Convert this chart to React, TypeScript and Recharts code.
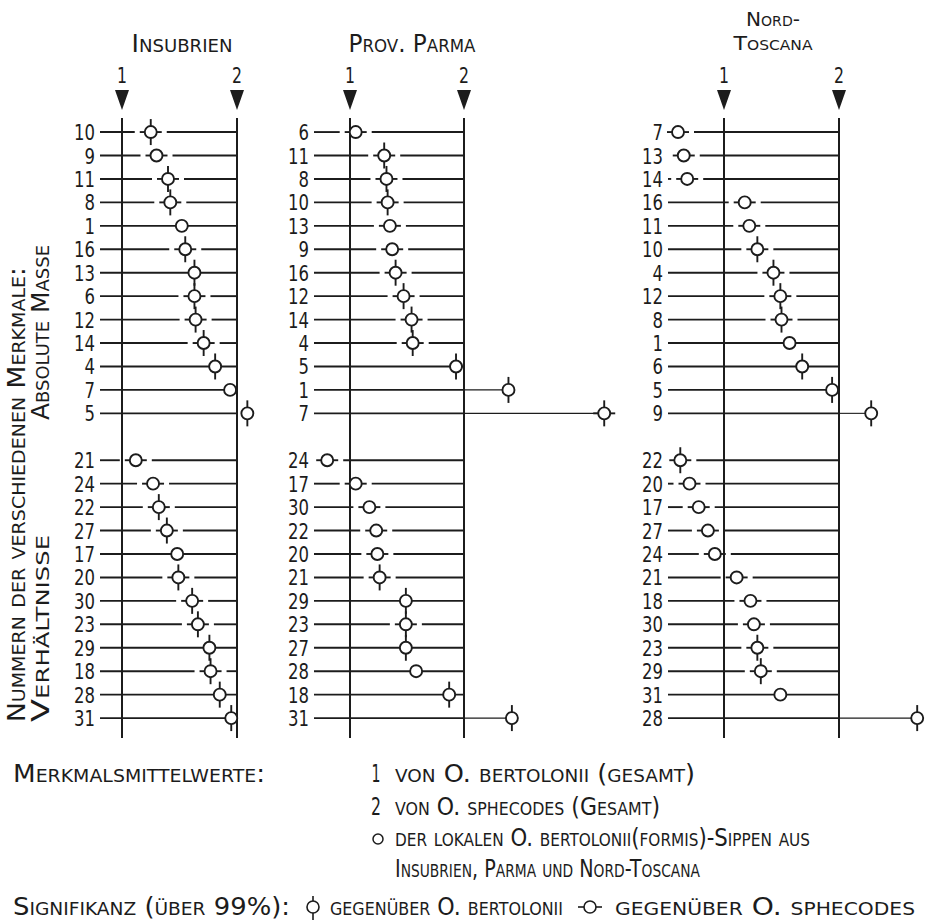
import React from 'react';
import { ScatterChart, Scatter, XAxis, YAxis, ReferenceLine } from 'recharts';

// Insubrien
const insAbsLabels = ['10', '9', '11', '8', '1', '16', '13', '6', '12', '14', '4', '7', '5'];
const insAbsValues = [1.25, 1.3, 1.4, 1.42, 1.52, 1.55, 1.63, 1.63, 1.64, 1.71, 1.81, 1.94, 2.09];
const insAbsSig = ['BS', 'S', 'BS', 'BS', '', 'BS', 'B', 'BS', 'BS', 'BS', 'B', '', 'B'];
const insRatioLabels = ['21', '24', '22', '27', '17', '20', '30', '23', '29', '18', '28', '31'];
const insRatioValues = [1.12, 1.27, 1.32, 1.39, 1.48, 1.49, 1.61, 1.66, 1.76, 1.77, 1.85, 1.95];
const insRatioSig = ['S', 'S', 'BS', 'BS', '', 'BS', 'BS', 'BS', 'B', 'BS', 'B', 'B'];

// Prov. Parma
const parAbsLabels = ['6', '11', '8', '10', '13', '9', '16', '12', '14', '4', '5', '1', '7'];
const parAbsValues = [1.05, 1.3, 1.32, 1.33, 1.35, 1.37, 1.4, 1.47, 1.54, 1.55, 1.93, 2.39, 3.23];
const parAbsSig = ['S', 'BS', 'BS', 'BS', 'S', 'S', 'BS', 'BS', 'BS', 'BS', 'B', 'B', 'BS'];
const parRatioLabels = ['24', '17', '30', '22', '20', '21', '29', '23', '27', '28', '18', '31'];
const parRatioValues = [0.8, 1.05, 1.17, 1.23, 1.24, 1.26, 1.49, 1.49, 1.49, 1.58, 1.87, 2.42];
const parRatioSig = ['S', 'S', 'S', 'S', 'S', 'BS', 'B', 'BS', 'B', '', 'B', 'B'];

// Nord-Toscana
const ntAbsLabels = ['7', '13', '14', '16', '11', '10', '4', '12', '8', '1', '6', '5', '9'];
const ntAbsValues = [0.6, 0.65, 0.68, 1.18, 1.22, 1.29, 1.43, 1.49, 1.5, 1.57, 1.68, 1.94, 2.28];
const ntAbsSig = ['S', 'S', 'S', 'S', 'S', 'BS', 'BS', 'BS', 'BS', '', 'B', 'B', 'B'];
const ntRatioLabels = ['22', '20', '17', '27', '24', '21', '18', '30', '23', '29', '31', '28'];
const ntRatioValues = [0.62, 0.7, 0.78, 0.86, 0.92, 1.11, 1.23, 1.26, 1.29, 1.32, 1.49, 2.68];
const ntRatioSig = ['BS', 'S', 'S', 'S', 'S', 'S', 'S', 'S', 'BS', 'BS', '', 'B'];

const INK = '#1c1c1c';
const FONT = "'DejaVu Sans', 'Liberation Sans', sans-serif";
const W = 931;
const H = 921;
const PLOT_TOP = 118;
const PLOT_BOTTOM = 738;
const R = 6;

interface Row {
  label: string;
  value: number;
  row: number;
  b: boolean;
  s: boolean;
}

const buildRows = (labels: string[], values: number[], sig: string[], offset: number): Row[] =>
  labels.map((l, i) => ({
    label: l,
    value: values[i],
    row: offset + i,
    b: sig[i].includes('B'),
    s: sig[i].includes('S'),
  }));

const panels = [
  {
    key: 'ins',
    plotLeft: 100,
    x1: 122,
    x2: 237,
    plotRight: 280,
    rows: [
      ...buildRows(insAbsLabels, insAbsValues, insAbsSig, 0),
      ...buildRows(insRatioLabels, insRatioValues, insRatioSig, insAbsLabels.length + 1),
    ],
  },
  {
    key: 'par',
    plotLeft: 314,
    x1: 350,
    x2: 464,
    plotRight: 625,
    rows: [
      ...buildRows(parAbsLabels, parAbsValues, parAbsSig, 0),
      ...buildRows(parRatioLabels, parRatioValues, parRatioSig, parAbsLabels.length + 1),
    ],
  },
  {
    key: 'nt',
    plotLeft: 668,
    x1: 724,
    x2: 839,
    plotRight: 925,
    rows: [
      ...buildRows(ntAbsLabels, ntAbsValues, ntAbsSig, 0),
      ...buildRows(ntRatioLabels, ntRatioValues, ntRatioSig, ntAbsLabels.length + 1),
    ],
  },
];

const Marker = (props: any) => {
  const { cx, cy, payload } = props;
  if (cx == null || cy == null) return null;
  return (
    <g stroke={INK} strokeWidth={1.9}>
      {payload.b && (
        <>
          <line x1={cx} y1={cy - R} x2={cx} y2={cy - R - 7} />
          <line x1={cx} y1={cy + R} x2={cx} y2={cy + R + 7} />
        </>
      )}
      {payload.s && (
        <>
          <line x1={cx - R - 5} y1={cy} x2={cx - R} y2={cy} />
          <line x1={cx + R} y1={cy} x2={cx + R + 5} y2={cy} />
        </>
      )}
      <circle cx={cx} cy={cy} r={R} fill="#fff" />
    </g>
  );
};

const RowTick = (props: any) => {
  const { x, y, payload, labels } = props;
  const t = labels[payload.value] ?? '';
  return (
    <text
      x={x}
      y={y}
      dy={8}
      textAnchor="end"
      fontSize={21}
      fontFamily={FONT}
      fill={INK}
      textLength={t.length * 10.5}
      lengthAdjust="spacingAndGlyphs"
    >
      {t}
    </text>
  );
};

const RefMark = (props: any) => {
  const { viewBox, text } = props;
  if (!viewBox) return null;
  const { x, y } = viewBox;
  return (
    <g>
      <polygon points={`${x - 7},${y - 28} ${x + 7},${y - 28} ${x},${y - 8}`} fill={INK} />
      <text x={x} y={y - 35} textAnchor="middle" fontSize={22} fontFamily={FONT} fill={INK}
        textLength={10} lengthAdjust="spacingAndGlyphs">
        {text}
      </text>
    </g>
  );
};

function Panel({ p }: { p: (typeof panels)[number] }) {
  const ppu = p.x2 - p.x1;
  const dmin = 1 - (p.x1 - p.plotLeft) / ppu;
  const dmax = 1 + (p.plotRight - p.x1) / ppu;
  const gap = 16 / ppu;
  const labels: Record<number, string> = {};
  p.rows.forEach((r) => (labels[r.row] = r.label));
  const segs: { a: number; b: number; y: number; thin?: boolean }[] = [];
  p.rows.forEach((r) => {
    if (r.value <= 2) {
      if (r.s) {
        if (r.value - gap > dmin) segs.push({ a: dmin, b: r.value - gap, y: r.row });
        if (r.value + gap < 2) segs.push({ a: Math.max(dmin, r.value + gap), b: 2, y: r.row });
      } else {
        segs.push({ a: dmin, b: 2, y: r.row });
      }
    } else {
      segs.push({ a: dmin, b: 2, y: r.row });
      if ((r.value - 2) * ppu > 15) segs.push({ a: 2, b: r.value - R / ppu, y: r.row, thin: true });
    }
  });

  return (
    <div style={{ position: 'absolute', left: 0, top: 0 }}>
      <ScatterChart
        width={W}
        height={H}
        margin={{ top: PLOT_TOP, bottom: H - PLOT_BOTTOM, left: p.plotLeft - 60, right: W - p.plotRight }}
      >
        <XAxis type="number" dataKey="value" domain={[dmin, dmax]} hide />
        <YAxis
          type="number"
          dataKey="row"
          domain={[-0.6, 25.85]}
          reversed
          width={60}
          ticks={p.rows.map((r) => r.row)}
          interval={0}
          axisLine={false}
          tickLine={false}
          tickSize={0}
          tickMargin={5}
          tick={<RowTick labels={labels} />}
        />
        {segs.map((s, i) => (
          <ReferenceLine
            key={`seg-${i}`}
            segment={[
              { x: s.a, y: s.y },
              { x: s.b, y: s.y },
            ]}
            stroke={INK}
            strokeWidth={s.thin ? 1.1 : 1.9}
            ifOverflow="visible"
          />
        ))}
        <ReferenceLine x={1} stroke={INK} strokeWidth={2} label={<RefMark text="1" />} />
        <ReferenceLine x={2} stroke={INK} strokeWidth={2} label={<RefMark text="2" />} />
        <Scatter data={p.rows} shape={Marker} isAnimationActive={false} />
      </ScatterChart>
    </div>
  );
}

const SC = (props: any) => (
  <text fontFamily={FONT} fontSize={25} fill={INK} style={{ fontVariant: 'small-caps' }}
    lengthAdjust="spacingAndGlyphs" {...props} />
);

export default function App() {
  return (
    <div style={{ position: 'absolute', left: 0, top: 0, width: W, height: H, background: '#fff' }}>
      {panels.map((p) => (
        <Panel key={p.key} p={p} />
      ))}
      <svg width={W} height={H} style={{ position: 'absolute', left: 0, top: 0, pointerEvents: 'none' }}>
        <SC x={182} y={52} textAnchor="middle" textLength={101}>Insubrien</SC>
        <SC x={412} y={52} textAnchor="middle" textLength={127}>Prov. Parma</SC>
        <SC x={773} y={26} textAnchor="middle" textLength={54} fontSize={20}>Nord-</SC>
        <SC x={773} y={50} textAnchor="middle" textLength={79} fontSize={20}>Toscana</SC>

        <SC x={25} y={722} transform="rotate(-90 25 722)" textLength={455}>
          Nummern der verschiedenen Merkmale:
        </SC>
        <SC x={49} y={420} transform="rotate(-90 49 420)" textLength={175}>Absolute Masse</SC>
        <SC x={49} y={722} transform="rotate(-90 49 722)" textLength={187}>Verhältnisse</SC>

        <SC x={13} y={782} textLength={252}>Merkmalsmittelwerte:</SC>
        <SC x={376} y={782} textAnchor="middle" textLength={9}>1</SC>
        <SC x={395} y={782} textLength={300}>von O. bertolonii (gesamt)</SC>
        <SC x={376} y={815} textAnchor="middle" textLength={10}>2</SC>
        <SC x={395} y={815} textLength={265}>von O. sphecodes (Gesamt)</SC>
        <circle cx={378} cy={839} r={5} fill="none" stroke={INK} strokeWidth={1.5} />
        <SC x={395} y={846} textLength={415}>der lokalen O. bertolonii(formis)-Sippen aus</SC>
        <SC x={395} y={877} textLength={305}>Insubrien, Parma und Nord-Toscana</SC>

        <SC x={13} y={915} textLength={277}>Signifikanz (über 99%):</SC>
        <g stroke={INK} strokeWidth={1.6} fill="none">
          <line x1={313} y1={896} x2={313} y2={920} />
          <circle cx={313} cy={907} r={6} fill="#fff" />
          <line x1={578} y1={907} x2={602} y2={907} />
          <circle cx={590} cy={907} r={6} fill="#fff" />
        </g>
        <SC x={330} y={915} textLength={233}>gegenüber O. bertolonii</SC>
        <SC x={615} y={915} textLength={300}>gegenüber O. sphecodes</SC>
      </svg>
    </div>
  );
}
